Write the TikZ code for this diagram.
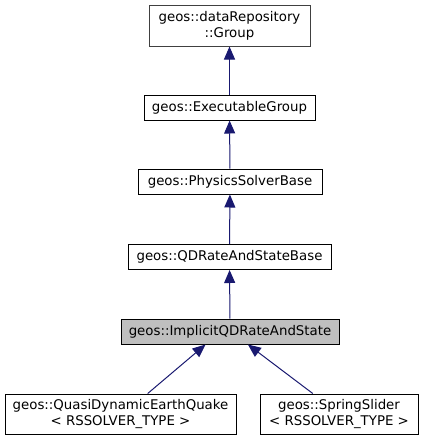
\documentclass[tikz,border=0pt]{standalone}
\usepackage{fontspec}
\setmainfont{DejaVu Sans}
\usetikzlibrary{arrows.meta}
\definecolor{edgeblue}{HTML}{191970}
\definecolor{nodegray}{HTML}{BFBFBF}
\definecolor{framegray}{HTML}{404040}
\tikzset{
    box/.style ={
        rectangle,
        minimum height =18.75pt,
        inner xsep=4pt,
        inner ysep=2pt,
        align=center,
        font=\fontsize{10}{12}\selectfont,
        draw=black,
        fill=white,
        line width=0.75pt
    },
    >={Triangle[length=9.75pt,width=8.25pt]}
}

\begin{document}
\begin{tikzpicture}[x=0.75pt,y=-0.75pt]
        \useasboundingbox (0,0) rectangle (424,440);
        \node[box,draw=framegray,minimum width=120.75pt,minimum height=30.75pt] (GROUP) at(229.5,25.5) {geos::dataRepository\\::Group};
        \node[box,minimum width=128.25pt] (EXEC) at(229.5,107.5) {geos::ExecutableGroup};
        \node[box,minimum width=138pt] (SOLVER) at(230,181.5) {geos::PhysicsSolverBase};
        \node[box,minimum width=152.25pt] (QDBASE) at(229.5,257) {geos::QDRateAndStateBase};
        \node[box,fill=nodegray,minimum width=163.5pt] (IMPLICIT) at(230,331.5) {geos::ImplicitQDRateAndState};
        \node[box,minimum width=173.25pt,minimum height=30pt] (QUASI) at(120.5,414) {geos::QuasiDynamicEarthQuake\\< RSSOLVER\_TYPE >};
        \node[box,minimum width=118.5pt,minimum height=30pt] (SPRING) at(339,414) {geos::SpringSlider\\< RSSOLVER\_TYPE >};
        \draw[->,edgeblue,line width=0.75pt] (EXEC)--(GROUP);
        \draw[->,edgeblue,line width=0.75pt] (SOLVER)--(EXEC);
        \draw[->,edgeblue,line width=0.75pt] (QDBASE)--(SOLVER);
        \draw[->,edgeblue,line width=0.75pt] (IMPLICIT)--(QDBASE);
        \draw[->,edgeblue,line width=0.75pt] (QUASI.37)--(IMPLICIT.208);
        \draw[->,edgeblue,line width=0.75pt] (SPRING.142)--(IMPLICIT.-36);
    \end{tikzpicture}
\end{document}
